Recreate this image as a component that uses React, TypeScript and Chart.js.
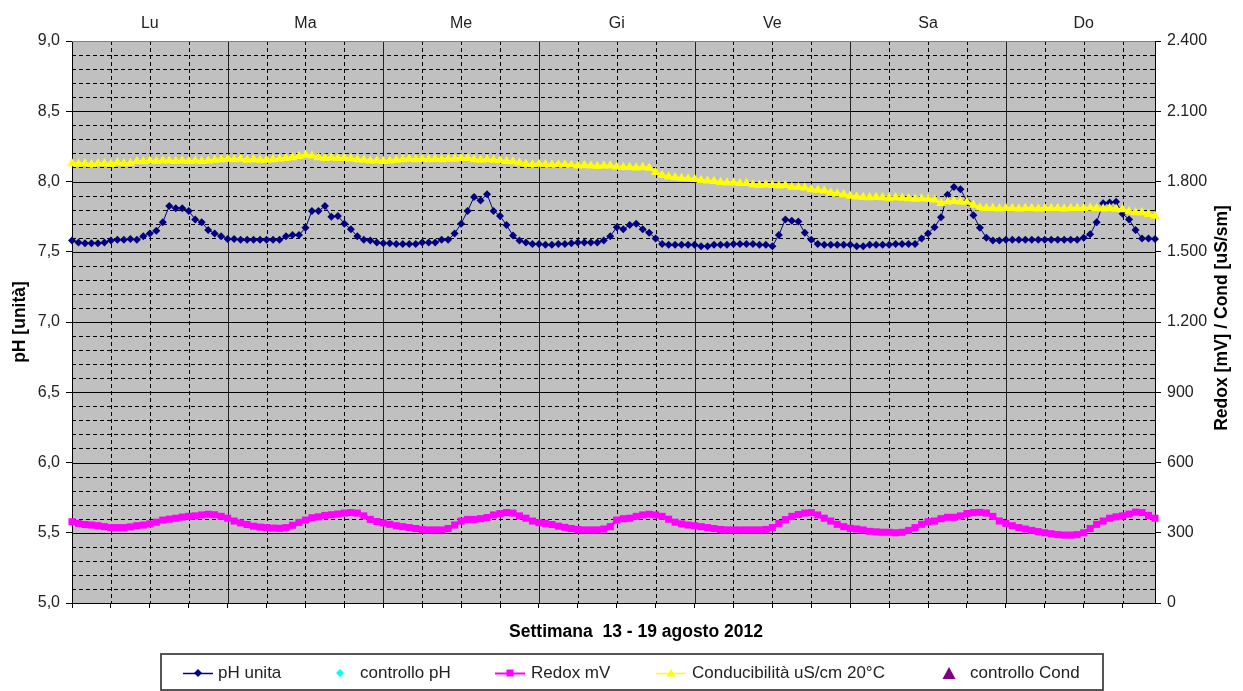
import React, { useEffect, useRef } from 'react';
import { Chart, registerables } from 'chart.js';

Chart.register(...registerables);

// ---------- data ----------
const DAY_LABELS = ['Lu', 'Ma', 'Me', 'Gi', 'Ve', 'Sa', 'Do'];
const DAY_CENTERS = [12, 36, 60, 84, 108, 132, 156];

const PH_UNITA = [
  7.58, 7.565, 7.56, 7.56, 7.56, 7.565, 7.58, 7.585, 7.585, 7.59, 7.585, 7.61, 7.63, 7.65, 7.71, 7.825, 7.81, 7.81, 7.79, 7.73, 7.71, 7.655, 7.63, 7.61,
  7.59, 7.59, 7.585, 7.585, 7.585, 7.585, 7.585, 7.585, 7.585, 7.61, 7.62, 7.62, 7.67, 7.79, 7.79, 7.825, 7.75, 7.755, 7.70, 7.66, 7.61, 7.585, 7.58, 7.565,
  7.56, 7.56, 7.555, 7.555, 7.555, 7.555, 7.565, 7.565, 7.565, 7.585, 7.585, 7.63, 7.70, 7.79, 7.89, 7.865, 7.91, 7.79, 7.755, 7.69, 7.615, 7.58, 7.565, 7.555,
  7.555, 7.55, 7.55, 7.555, 7.555, 7.56, 7.565, 7.565, 7.565, 7.565, 7.58, 7.61, 7.675, 7.66, 7.69, 7.70, 7.66, 7.635, 7.595, 7.555, 7.55, 7.55, 7.55, 7.55,
  7.55, 7.54, 7.54, 7.55, 7.55, 7.55, 7.555, 7.555, 7.555, 7.555, 7.55, 7.55, 7.54, 7.62, 7.73, 7.72, 7.715, 7.635, 7.585, 7.555, 7.55, 7.55, 7.55, 7.55,
  7.55, 7.54, 7.54, 7.55, 7.55, 7.55, 7.55, 7.555, 7.555, 7.555, 7.555, 7.595, 7.63, 7.675, 7.745, 7.905, 7.96, 7.945, 7.86, 7.76, 7.67, 7.6, 7.58, 7.58,
  7.585, 7.585, 7.585, 7.585, 7.585, 7.585, 7.585, 7.585, 7.585, 7.585, 7.585, 7.585, 7.60, 7.625, 7.71, 7.845, 7.85, 7.855, 7.77, 7.73, 7.655, 7.595, 7.595, 7.59,
];

const REDOX_MV = [
  347, 340, 335, 333, 330, 326, 322, 322, 322, 325, 330, 333, 338, 345, 354, 358, 362, 367, 370, 372, 376, 379, 377, 370,
  362, 350, 342, 335, 328, 324, 322, 320, 319, 322, 332, 344, 354, 364, 368, 374, 377, 380, 384, 386, 384, 372, 357, 348,
  342, 336, 330, 326, 322, 318, 314, 312, 312, 312, 318, 333, 350, 357, 357, 360, 365, 376, 382, 386, 384, 372, 362, 350,
  343, 340, 335, 328, 323, 318, 314, 312, 312, 312, 316, 326, 354, 360, 362, 370, 376, 379, 376, 370, 358, 345, 338, 333,
  330, 326, 322, 318, 314, 312, 312, 312, 312, 312, 312, 314, 322, 340, 356, 370, 378, 384, 386, 376, 362, 350, 336, 326,
  319, 316, 312, 306, 304, 302, 302, 300, 302, 310, 322, 336, 347, 350, 360, 366, 366, 372, 382, 386, 387, 384, 370, 350,
  340, 330, 322, 316, 310, 305, 300, 296, 292, 290, 290, 292, 300, 318, 336, 350, 362, 368, 372, 380, 388, 386, 374, 362,
];

const CONDUCIBILITA = [
  1877, 1875, 1877, 1873, 1877, 1877, 1875, 1880, 1877, 1878,
  1887, 1885, 1889, 1887, 1889, 1889, 1887, 1889, 1887, 1889, 1887, 1889, 1892, 1894,
  1896, 1894, 1896, 1892, 1894, 1892, 1892, 1894, 1896, 1899,
  1903, 1908, 1913,
  1910, 1903, 1899, 1901, 1899, 1899, 1897, 1894, 1892, 1889,
  1889, 1887, 1889,
  1892, 1894, 1896, 1894, 1896, 1894, 1896, 1894, 1896, 1896, 1899, 1899,
  1894, 1892, 1894, 1892, 1890, 1887,
  1884, 1880,
  1875, 1873, 1875, 1873, 1871, 1873, 1873, 1870,
  1867, 1869, 1867, 1865, 1867, 1867, 1863,
  1861, 1861, 1859, 1861, 1858,
  1840, 1827, 1820, 1817,
  1814, 1812, 1810,
  1805, 1803, 1801,
  1797, 1795, 1795, 1793, 1792,
  1786, 1784, 1786, 1784, 1782, 1784,
  1777, 1775, 1773,
  1766, 1764, 1760,
  1752, 1748, 1745,
  1738, 1735, 1733, 1732, 1733, 1732, 1730, 1732, 1730,
  1727, 1725, 1727, 1725,
  1722, 1707, 1714, 1716, 1714, 1712, 1700,
  1688, 1686, 1686, 1684, 1686, 1686, 1684, 1686, 1686, 1684, 1686, 1686, 1686, 1684, 1686, 1686, 1686,
  1688, 1686, 1684, 1686, 1683, 1680,
  1672, 1668, 1668, 1660, 1653,
];

const CONTROLLO_PH: number[] = [];
const CONTROLLO_COND: number[] = [];

const X_TITLE = 'Settimana  13 - 19 agosto 2012';
const Y_LEFT_TITLE = 'pH [unità]';
const Y_RIGHT_TITLE = 'Redox [mV] / Cond [uS/sm]';

const LEGEND_ITEMS = [
  { label: 'pH unita', color: '#000080', shape: 'diamond', line: true },
  { label: 'controllo pH', color: '#00FFFF', shape: 'diamond', line: false },
  { label: 'Redox mV', color: '#FF00FF', shape: 'square', line: true },
  { label: 'Conducibilità uS/cm 20°C', color: '#FFFF00', shape: 'triangle', line: true },
  { label: 'controllo Cond', color: '#800080', shape: 'bigtriangle', line: false },
];

const FONT = '"Liberation Sans", Arial, sans-serif';

const fmtThousands = (v: number) => {
  const n = Math.round(v);
  if (n >= 1000) return Math.floor(n / 1000) + '.' + String(n % 1000).padStart(3, '0');
  return String(n);
};

const toXY = (arr: number[]) => arr.map((v, i) => ({ x: i, y: v }));

function drawMarker(ctx: CanvasRenderingContext2D, shape: string, x: number, y: number, color: string) {
  ctx.fillStyle = color;
  ctx.beginPath();
  if (shape === 'diamond') {
    ctx.moveTo(x, y - 4); ctx.lineTo(x + 4, y); ctx.lineTo(x, y + 4); ctx.lineTo(x - 4, y);
  } else if (shape === 'square') {
    ctx.rect(x - 3.5, y - 3.5, 7, 7);
  } else if (shape === 'triangle') {
    ctx.moveTo(x, y - 4); ctx.lineTo(x + 4.5, y + 3.5); ctx.lineTo(x - 4.5, y + 3.5);
  } else {
    ctx.moveTo(x, y - 6); ctx.lineTo(x + 6.5, y + 6); ctx.lineTo(x - 6.5, y + 6);
  }
  ctx.closePath();
  ctx.fill();
}

const excelPlugin = {
  id: 'excelLook',
  beforeDraw(chart: any) {
    const { ctx, chartArea: a } = chart;
    ctx.save();
    ctx.fillStyle = '#ffffff';
    ctx.fillRect(0, 0, chart.width, chart.height);
    ctx.fillStyle = '#C0C0C0';
    ctx.fillRect(a.left, a.top, a.right - a.left, a.bottom - a.top);
    ctx.restore();
  },
  beforeDatasetsDraw(chart: any) {
    const { ctx, chartArea: a, scales } = chart;
    const ys = scales.y;
    const xs = scales.x;
    ctx.save();
    ctx.lineWidth = 1;
    ctx.strokeStyle = '#000';
    for (let k = 1; k < 40; k++) {
      const py = Math.round(ys.getPixelForValue(5 + k * 0.1)) + 0.5;
      const major = k % 5 === 0;
      ctx.setLineDash(major ? [] : [4, 3]);
      ctx.beginPath();
      ctx.moveTo(a.left, py);
      ctx.lineTo(a.right, py);
      ctx.stroke();
      if (!major) {
        ctx.setLineDash([]);
        ctx.beginPath();
        ctx.moveTo(a.left, py); ctx.lineTo(a.left + 4, py);
        ctx.moveTo(a.right - 4, py); ctx.lineTo(a.right, py);
        ctx.stroke();
      }
    }
    for (let h = 6; h < 168; h += 6) {
      const px = Math.round(xs.getPixelForValue(h)) + 0.5;
      const major = h % 24 === 0;
      ctx.strokeStyle = major ? '#222' : '#000';
      ctx.setLineDash(major ? [] : [4, 3]);
      ctx.beginPath();
      ctx.moveTo(px, a.top);
      ctx.lineTo(px, a.bottom);
      ctx.stroke();
    }
    ctx.setLineDash([]);
    ctx.strokeStyle = '#808080';
    ctx.beginPath();
    ctx.moveTo(a.left, a.top + 0.5);
    ctx.lineTo(a.right, a.top + 0.5);
    ctx.stroke();
    ctx.restore();
  },
  afterDraw(chart: any) {
    const { ctx } = chart;
    ctx.save();
    ctx.fillStyle = '#000';
    ctx.font = 'bold 17.5px ' + FONT;
    ctx.textAlign = 'center';
    ctx.textBaseline = 'middle';
    ctx.fillText(X_TITLE, 636, 632);

    ctx.save();
    ctx.translate(20, 322);
    ctx.rotate(-Math.PI / 2);
    ctx.fillText(Y_LEFT_TITLE, 0, 0);
    ctx.restore();

    ctx.save();
    ctx.translate(1222, 318);
    ctx.rotate(-Math.PI / 2);
    ctx.fillText(Y_RIGHT_TITLE, 0, 0);
    ctx.restore();

    // legend box
    ctx.strokeStyle = '#555';
    ctx.lineWidth = 2;
    ctx.strokeRect(161, 654, 942, 36);

    const ly = 673;
    const positions = [
      { mx: 198, tx: 218 },
      { mx: 340, tx: 360 },
      { mx: 510, tx: 531 },
      { mx: 671, tx: 692 },
      { mx: 949, tx: 970 },
    ];
    ctx.font = '17px ' + FONT;
    ctx.textAlign = 'left';
    LEGEND_ITEMS.forEach((it, i) => {
      const p = positions[i];
      if (it.line) {
        ctx.strokeStyle = it.color;
        ctx.lineWidth = it.shape === 'square' ? 2 : 1.5;
        ctx.beginPath();
        ctx.moveTo(p.mx - 15, ly + 0.5);
        ctx.lineTo(p.mx + 15, ly + 0.5);
        ctx.stroke();
      }
      drawMarker(ctx, it.shape, p.mx, ly, it.color);
      ctx.fillStyle = '#222';
      ctx.fillText(it.label, p.tx, ly);
    });
    ctx.restore();
  },
};

export default function App() {
  const ref = useRef<HTMLCanvasElement>(null);

  useEffect(() => {
    const canvas = ref.current;
    if (!canvas) return;
    Chart.defaults.font.family = FONT;
    Chart.defaults.font.size = 16;
    Chart.defaults.color = '#222';

    const chart = new Chart(canvas, {
      type: 'line',
      data: {
        datasets: [
          {
            label: 'pH unita', data: toXY(PH_UNITA), xAxisID: 'x', yAxisID: 'y',
            borderColor: '#000080', backgroundColor: '#000080', borderWidth: 1,
            pointStyle: 'rectRot', pointRadius: 4, pointBorderWidth: 0, tension: 0, order: 3, clip: 8,
          },
          {
            label: 'controllo pH', data: toXY(CONTROLLO_PH), xAxisID: 'x', yAxisID: 'y',
            borderColor: '#00FFFF', backgroundColor: '#00FFFF', showLine: false,
            pointStyle: 'rectRot', pointRadius: 4, order: 4,
          },
          {
            label: 'Redox mV', data: toXY(REDOX_MV), xAxisID: 'x', yAxisID: 'y1',
            borderColor: '#FF00FF', backgroundColor: '#FF00FF', borderWidth: 3,
            pointStyle: 'rect', pointRadius: 5, pointBorderWidth: 0, tension: 0, order: 2, clip: 8,
          },
          {
            label: 'Conducibilità uS/cm 20°C', data: toXY(CONDUCIBILITA), xAxisID: 'x', yAxisID: 'y1',
            borderColor: '#FFFF00', backgroundColor: '#FFFF00', borderWidth: 2.5,
            pointStyle: 'triangle', pointRadius: 5.5, pointBorderWidth: 0, tension: 0, order: 1, clip: 8,
          },
          {
            label: 'controllo Cond', data: toXY(CONTROLLO_COND), xAxisID: 'x', yAxisID: 'y1',
            borderColor: '#800080', backgroundColor: '#800080', showLine: false,
            pointStyle: 'triangle', pointRadius: 6, order: 0,
          },
        ],
      },
      options: {
        animation: false,
        responsive: true,
        maintainAspectRatio: false,
        layout: { padding: 0 },
        plugins: { legend: { display: false }, tooltip: { enabled: false } },
        scales: {
          x: {
            type: 'linear', position: 'bottom', min: 0, max: 167,
            ticks: { stepSize: 6, autoSkip: false, includeBounds: false, callback: () => '', padding: 0 },
            grid: { drawOnChartArea: false, drawTicks: true, tickLength: 5, color: '#000' },
            border: { display: true, color: '#000', width: 1 },
            afterFit: (s: any) => { s.height = 88; },
          },
          xTop: {
            type: 'linear', position: 'top', min: 0, max: 167,
            grid: { display: false },
            border: { display: false },
            afterBuildTicks: (s: any) => { s.ticks = DAY_CENTERS.map((v) => ({ value: v })); },
            ticks: {
              autoSkip: false, maxRotation: 0, padding: 0,
              callback: (v: any) => DAY_LABELS[DAY_CENTERS.indexOf(Number(v))] ?? '',
            },
            afterFit: (s: any) => { s.height = 41; },
          },
          y: {
            type: 'linear', position: 'left', min: 5, max: 9,
            ticks: { stepSize: 0.5, padding: 6, callback: (v: any) => Number(v).toFixed(1).replace('.', ',') },
            grid: { drawOnChartArea: false, tickLength: 6, color: '#000' },
            border: { display: true, color: '#000', width: 1 },
            afterFit: (s: any) => { s.width = 72; },
          },
          y1: {
            type: 'linear', position: 'right', min: 0, max: 2400,
            ticks: { stepSize: 300, padding: 6, callback: (v: any) => fmtThousands(Number(v)) },
            grid: { drawOnChartArea: false, tickLength: 6, color: '#000' },
            border: { display: true, color: '#000', width: 1 },
            afterFit: (s: any) => { s.width = 88; },
          },
        },
      },
      plugins: [excelPlugin],
    } as any);

    return () => chart.destroy();
  }, []);

  return (
    <div style={{ position: 'absolute', left: 0, top: 0, width: 1243, height: 691 }}>
      <canvas ref={ref} />
    </div>
  );
}
